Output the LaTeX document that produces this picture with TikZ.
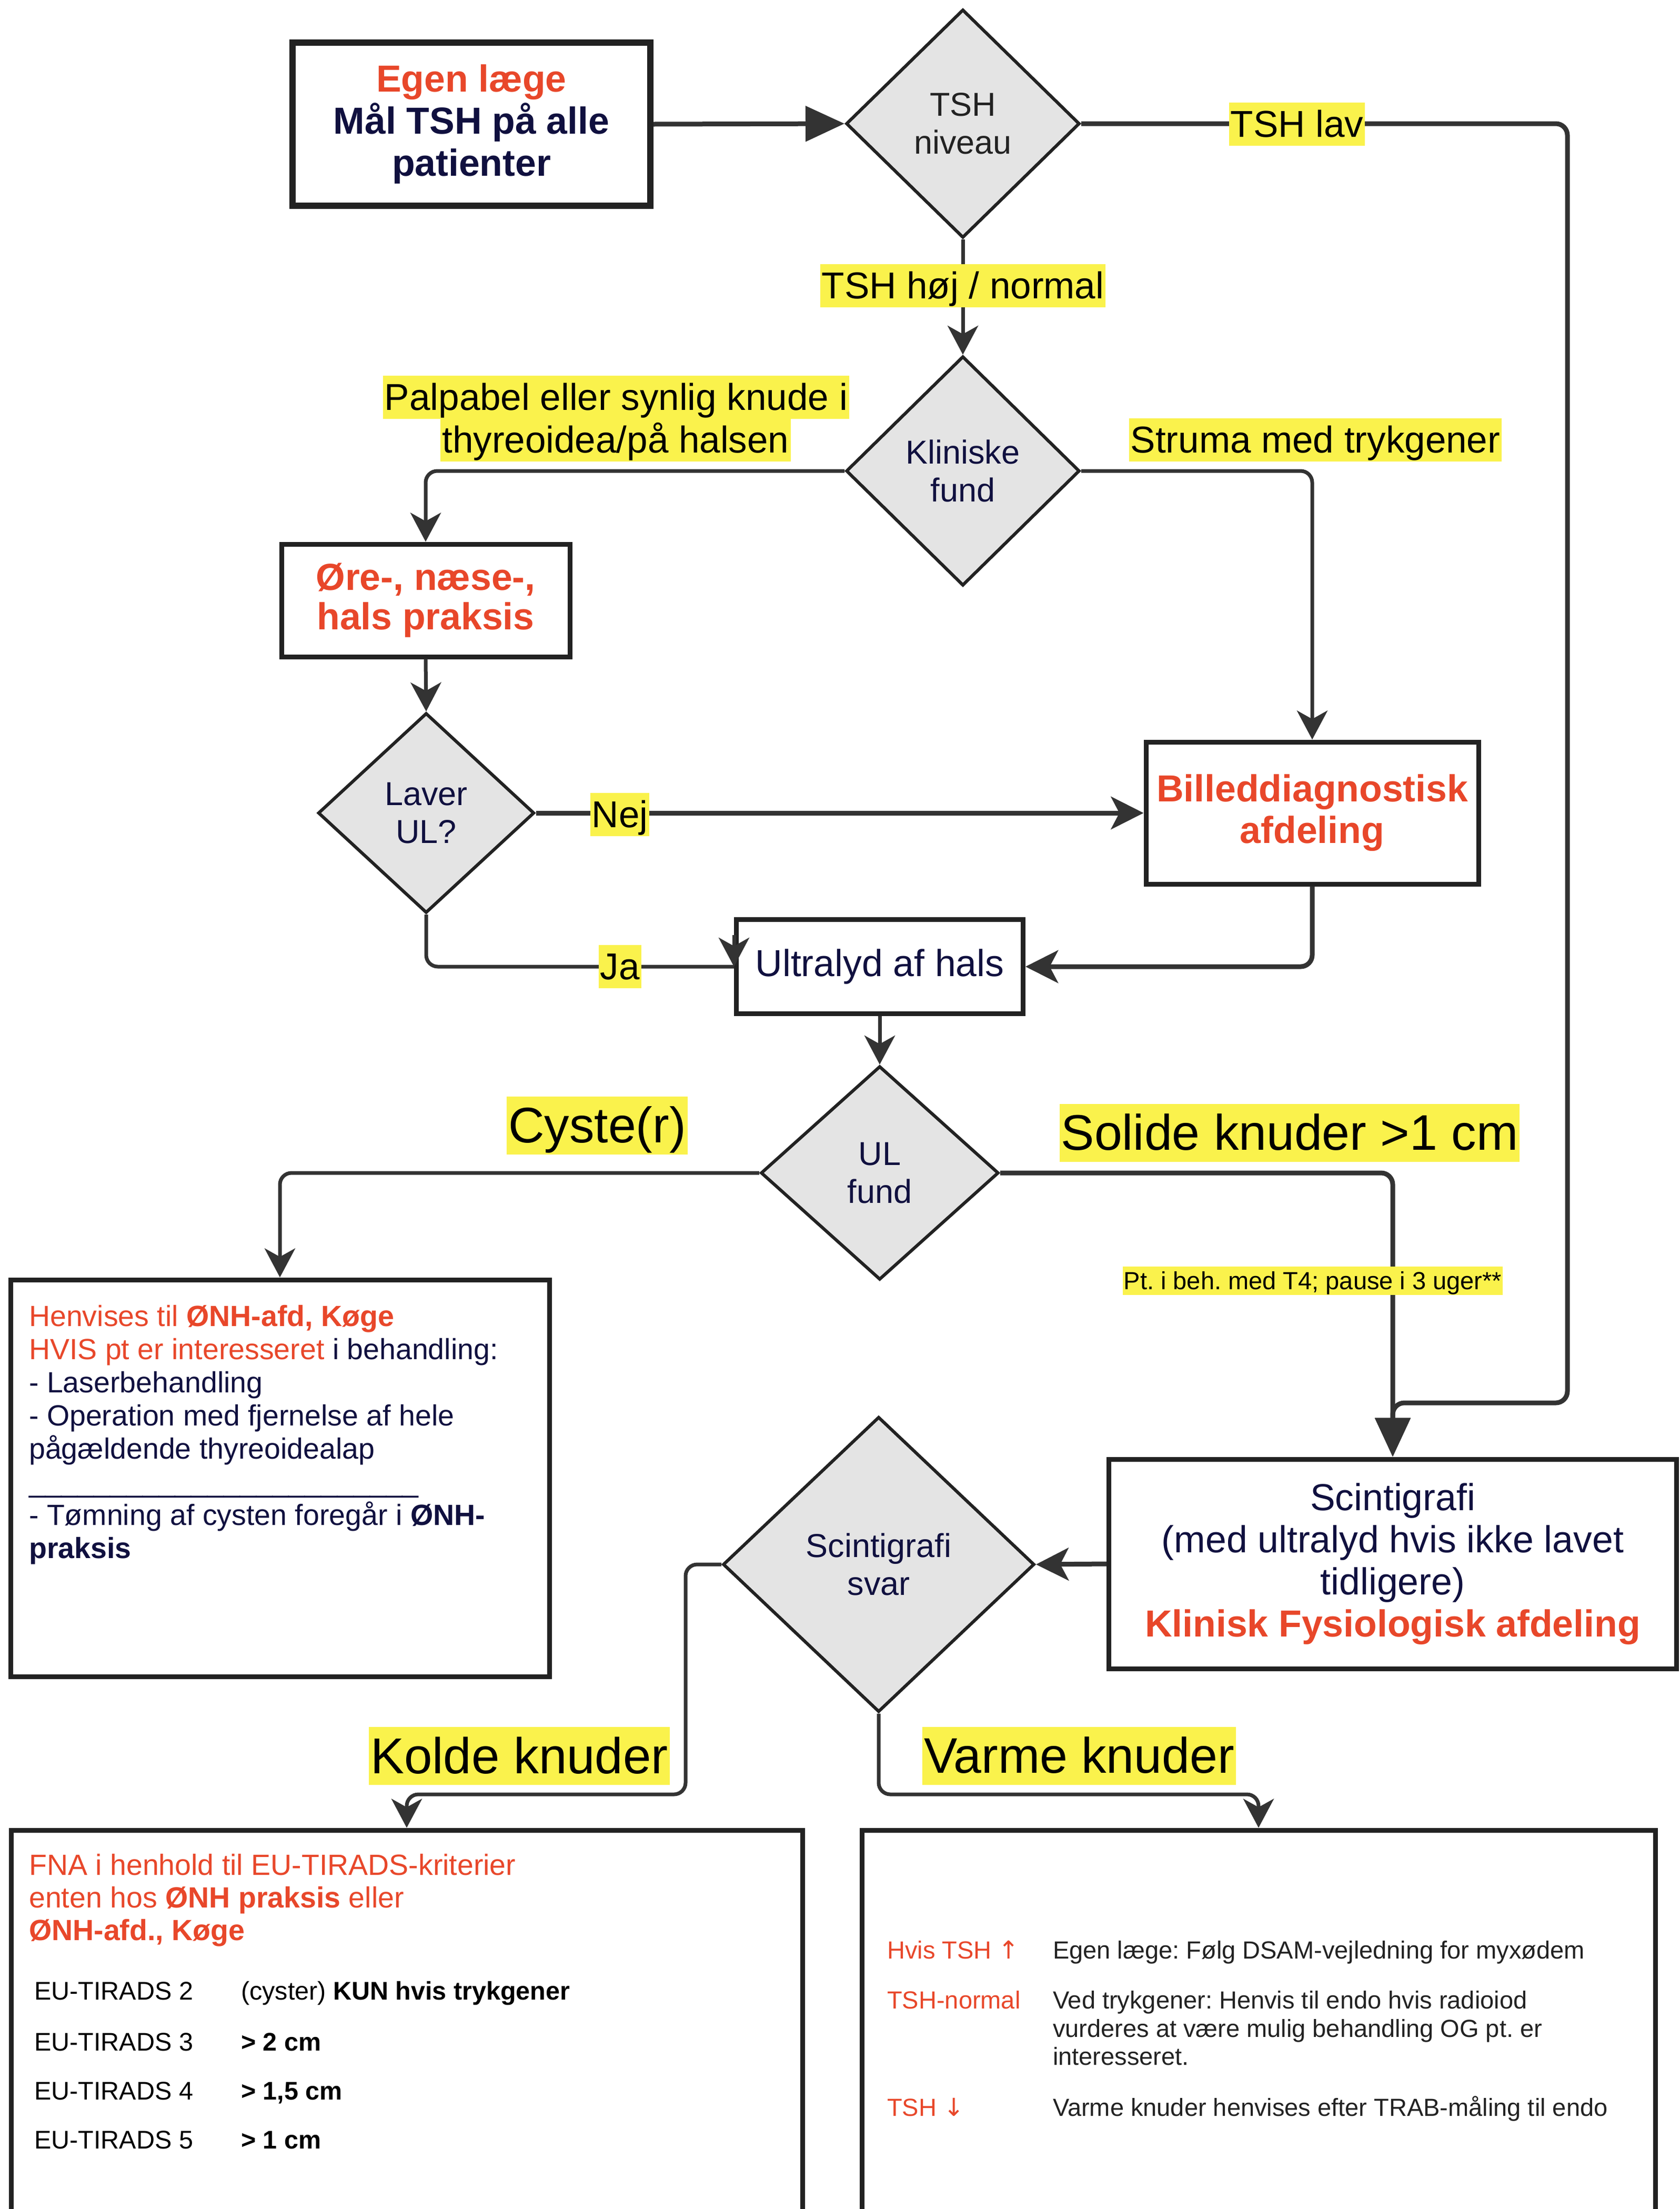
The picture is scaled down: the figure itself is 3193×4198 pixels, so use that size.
\documentclass[tikz,border=0pt]{standalone}
\usepackage{fontspec}
\setmainfont{Liberation Sans}
\newfontfamily\symfont{DejaVu Sans}
\usetikzlibrary{arrows.meta,shapes.geometric,calc}
\definecolor{myred}{HTML}{E8472A}
\definecolor{navy}{HTML}{10103F}
\definecolor{lineclr}{HTML}{333333}
\definecolor{diaborder}{HTML}{222222}
\definecolor{diafill}{HTML}{E4E4E4}
\definecolor{yel}{HTML}{FAF24C}
\definecolor{txtgray}{HTML}{222222}
\frenchspacing
\begin{document}
\frenchspacing
\begin{tikzpicture}[x=1pt,y=-1pt,
  box/.style={draw=diaborder, line width=9pt, fill=white, inner sep=0pt, align=center, text=navy},
  dia/.style={diamond, draw=diaborder, line width=6pt, fill=diafill, inner sep=0pt, align=center, text=navy,
    font=\fontsize{63}{72}\selectfont},
  conn/.style={draw=lineclr, line width=7pt, rounded corners=22pt,
    -{Stealth[length=55pt,width=58pt,inset=16pt]}},
  plainconn/.style={draw=lineclr, line width=7pt, rounded corners=22pt},
  thickconn/.style={draw=lineclr, line width=9pt, rounded corners=22pt,
    -{Stealth[length=62pt,width=62pt,inset=16pt]}},
  bigconn/.style={draw=lineclr, line width=9pt, rounded corners=22pt,
    -{Triangle[length=74pt,width=66pt]}},
  lbl/.style={fill=yel, inner xsep=3pt, inner ysep=1.5pt, text=black,
    font=\fontsize{71}{80}\selectfont,
    execute at begin node={\rule[-0.212em]{0pt}{1.117em}}},
  txt/.style={anchor=base west, inner sep=0pt},
]
\useasboundingbox (0,0) rectangle (3193,4198);
\fill[white] (0,0) rectangle (3193,4198);

% ---------- nodes ----------
\node[box, line width=12pt, minimum width=680pt, minimum height=310pt,
  font=\fontsize{71.5}{80}\selectfont\bfseries] (egen) at (896,236)
  {\textcolor{myred}{Egen læge}\\Mål TSH på alle\\patienter};
\node[dia, minimum width=444pt, minimum height=434pt, text=txtgray] (tsh) at (1830,235) {TSH\\niveau};
\node[dia, minimum width=444pt, minimum height=436pt] (klin) at (1830,895) {Kliniske\\fund};
\node[box, minimum width=548pt, minimum height=214pt, text=myred,
  font=\fontsize{71.5}{75}\selectfont\bfseries] (ore) at (809,1141) {Øre-, næse-,\\hals praksis};
\node[dia, minimum width=411pt, minimum height=380pt] (laver) at (810,1545) {Laver\\UL?};
\node[box, minimum width=632pt, minimum height=270pt, text=myred,
  font=\fontsize{71.5}{79}\selectfont\bfseries] (bill) at (2494,1545) {Billeddiagnostisk\\afdeling};
\node[box, minimum width=545pt, minimum height=179pt,
  font=\fontsize{71.5}{80}\selectfont] (ultra) at (1672,1837) {Ultralyd af hals};
\node[dia, minimum width=452pt, minimum height=406pt] (ul) at (1672,2229) {UL\\fund};
\node[box, minimum width=1024pt, minimum height=754pt] (henv) at (532,2809) {};
\node[box, minimum width=1079pt, minimum height=398pt, text=navy,
  font=\fontsize{71.5}{80}\selectfont] (scinti) at (2647,2972)
  {Scintigrafi\\(med ultralyd hvis ikke lavet\\tidligere)\\\textcolor{myred}{\bfseries Klinisk Fysiologisk afdeling}};
\node[dia, minimum width=592pt, minimum height=561pt] (svar) at (1670,2973) {Scintigrafi\\svar};
\node[box, minimum width=1504pt, minimum height=822pt] (fna) at (773,3889) {};
\node[box, minimum width=1508pt, minimum height=822pt] (varm) at (2392,3889) {};

% ---------- bend coordinates ----------
\coordinate (rc) at (2979,2666);
\coordinate (kc) at (1303,3410);
\coordinate (vc) at (1670,3410);

% ---------- connectors ----------
\draw[bigconn] (egen.east) -- (tsh.west);
\draw[bigconn] (tsh.east) -| (rc) -| (scinti.north);
\draw[conn] (tsh.south) -- (klin.north);
\draw[conn] (klin.west) -| (ore.north);
\draw[conn] (klin.east) -| (bill.north);
\draw[conn] (ore.south) -- (laver.north);
\draw[thickconn] (laver.east) -- (bill.west);
\draw[plainconn] (laver.south) |- (ultra.west);
\draw[conn] ($(ultra.west)+(0,-60)$) -- (ultra.west);
\draw[thickconn] (bill.south) |- (ultra.east);
\draw[conn] (ultra.south) -- (ul.north);
\draw[conn] (ul.west) -| (henv.north);
\draw[bigconn] (ul.east) -| (scinti.north);
\draw[thickconn] (scinti.west) -- (svar.east);
\draw[conn] (svar.west) -| (kc) -| (fna.north);
\draw[conn] (svar.south) -- (vc) -| (varm.north);

% ---------- labels ----------
\node[lbl] (lav) at (2465,236) {TSH lav};
\node[lbl] (hoj) at (1830,543) {TSH høj / normal};
\node[lbl] (palp1) at (1171,755) {Palpabel eller synlig knude i};
\node[lbl] (palp2) at (1170,836) {thyreoidea/på halsen};
\node[lbl] (struma) at (2500,836) {Struma med trykgener};
\node[lbl] (nej) at (1178,1548) {Nej};
\node[lbl] (ja) at (1178,1837) {Ja};
\node[lbl, font=\fontsize{95}{100}\selectfont] (cyste) at (1135,2139) {Cyste(r)};
\node[lbl, font=\fontsize{95}{100}\selectfont] (solide) at (2451,2153) {Solide knuder >1 cm};
\node[lbl, font=\fontsize{47}{50}\selectfont, inner xsep=2pt, inner ysep=1pt] (pt) at (2495,2434) {Pt. i beh. med T4; pause i 3 uger**};
\node[lbl, font=\fontsize{96}{100}\selectfont] (kolde) at (987,3337) {Kolde knuder};
\node[lbl, font=\fontsize{95}{100}\selectfont] (varme) at (2051,3337) {Varme knuder};

% ---------- Henvises box text ----------
\begin{scope}[every node/.style={txt, text=navy, font=\fontsize{55.5}{63}\selectfont}]
\node (h1) at (55,2520) {\textcolor{myred}{Henvises til \textbf{ØNH-afd, Køge}}};
\node (h2) at (55,2583) {\textcolor{myred}{HVIS pt er interesseret} i behandling:};
\node (h3) at (55,2646) {- Laserbehandling};
\node (h4) at (55,2709) {- Operation med fjernelse af hele};
\node (h5) at (55,2772) {pågældende thyreoidealap};
\node (h6) at (55,2835) {\_\_\_\_\_\_\_\_\_\_\_\_\_\_\_\_\_\_\_\_\_\_\_\_};
\node (h7) at (55,2898) {- Tømning af cysten foregår i \textbf{ØNH-}};
\node (h8) at (55,2961) {\textbf{praksis}};
\end{scope}

% ---------- FNA box text ----------
\begin{scope}[every node/.style={txt, text=myred, font=\fontsize{55.5}{62}\selectfont}]
\node (f1) at (55,3563) {FNA i henhold til EU-TIRADS-kriterier};
\node (f2) at (55,3625) {enten hos \textbf{ØNH praksis} eller};
\node (f3) at (55,3687) {\textbf{ØNH-afd., Køge}};
\end{scope}
\begin{scope}[every node/.style={txt, text=black, font=\fontsize{48.5}{60}\selectfont}]
\node (e2a) at (65,3800) {EU-TIRADS 2};
\node (e2b) at (458,3800) {(cyster) \textbf{KUN hvis trykgener}};
\node (e3a) at (65,3897) {EU-TIRADS 3};
\node (e3b) at (458,3897) {\textbf{> 2 cm}};
\node (e4a) at (65,3990) {EU-TIRADS 4};
\node (e4b) at (458,3990) {\textbf{> 1,5 cm}};
\node (e5a) at (65,4083) {EU-TIRADS 5};
\node (e5b) at (458,4083) {\textbf{> 1 cm}};
\end{scope}

% ---------- Varme box text ----------
\begin{scope}[every node/.style={txt, text=txtgray, font=\fontsize{47}{54}\selectfont}]
\node[text=myred] (v1a) at (1686,3722) {Hvis TSH {\symfont ↑}};
\node (v1b) at (2001,3722) {Egen læge: Følg DSAM-vejledning for myxødem};
\node[text=myred] (v2a) at (1686,3817) {TSH-normal};
\node (v2b) at (2001,3817) {Ved trykgener: Henvis til endo hvis radioiod};
\node (v2c) at (2001,3871) {vurderes at være mulig behandling OG pt. er};
\node (v2d) at (2001,3924) {interesseret.};
\node[text=myred] (v3a) at (1686,4021) {TSH {\symfont ↓}};
\node (v3b) at (2001,4021) {Varme knuder henvises efter TRAB-måling til endo};
\end{scope}
\end{tikzpicture}
\end{document}
